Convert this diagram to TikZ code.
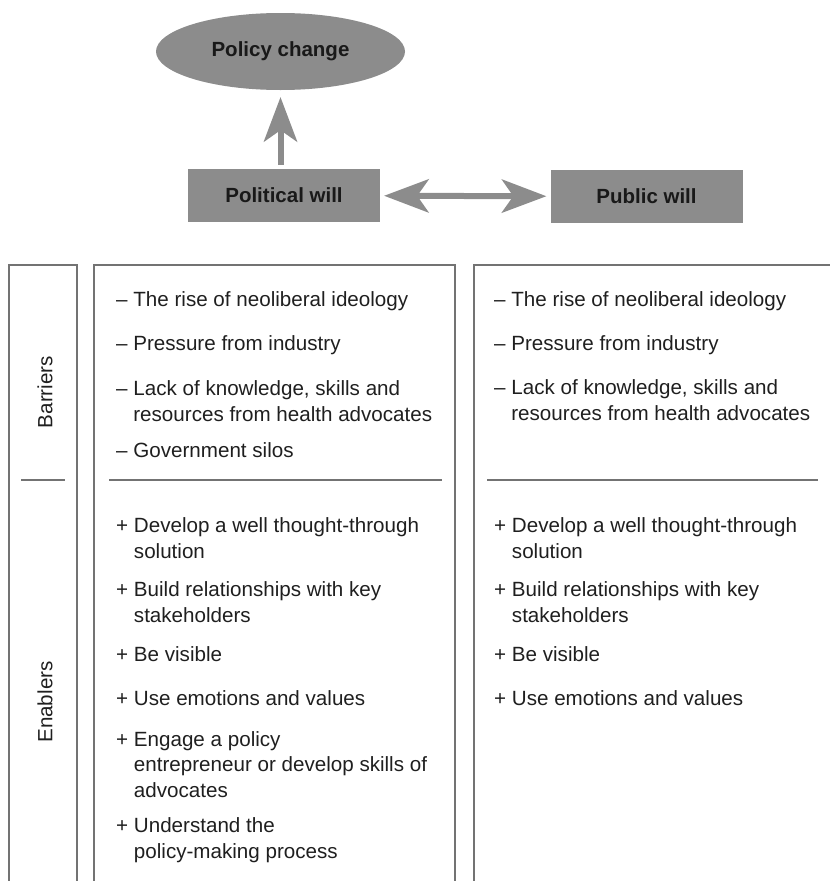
\documentclass[tikz,border=0pt]{standalone}
\usepackage{fontspec}
\setmainfont{Liberation Sans}
\usetikzlibrary{arrows.meta,shapes.geometric}

\begin{document}
\begin{tikzpicture}[x=1pt,y=-1pt,
  box/.style={fill=black!45,inner sep=0pt,text=black!90,
    font=\fontsize{20.5}{24}\selectfont\bfseries},
  goal/.style={box,ellipse,minimum width=249pt,minimum height=77pt},
  will/.style={box,minimum width=192pt,minimum height=53pt},
  item/.style={anchor=base west,align=left,inner sep=0pt,text=black!88,
    font=\fontsize{20.6}{25.5}\selectfont},
  side/.style={rotate=90,inner sep=0pt,text=black!88,
    font=\fontsize{20.6}{25.5}\selectfont},
  colline/.style={draw=black!55,line width=1.2pt},
  flow/.style={draw=black!45,line width=6pt,
    -{Stealth[length=45pt,width=34pt,inset=12pt,line width=0pt]}},
  twoway/.style={flow,{Stealth[length=45pt,width=34pt,inset=12pt,line width=0pt]}-{Stealth[length=45pt,width=34pt,inset=12pt,line width=0pt]}}]
\useasboundingbox (0,0) rectangle (830,881);

% top: the two wills and the outcome
\node[goal] (policy) at (280.5,51.5) {Policy change};
\node[will] (polwill) at (284,195.5) {Political will};
\node[will] (pubwill) at (646.5,196.5) {Public will};
\draw[flow,shorten <=4pt,shorten >=7pt] (polwill.north -| policy.south) -- (policy.south);
\draw[twoway,shorten <=4pt,shorten >=4pt] (polwill) -- (pubwill);

% table frames, open at the bottom
\draw[colline] (9,881) |- (77,265) -- (77,881);
\draw[colline] (94,881) |- (455,265) -- (455,881);
\draw[colline] (474,881) |- (831,265);
\draw[colline] (21,480) -- (65,480);
\draw[colline] (109,480) -- (442,480);
\draw[colline] (487,480) -- (818,480);

\node[side] (barriers) at (45,392) {Barriers};
\node[side] (enablers) at (45,702) {Enablers};

% political will column (multi-line items sit on their last baseline)
\node[item] (pbar1) at (116,306) {– The rise of neoliberal ideology};
\node[item] (pbar2) at (116,350) {– Pressure from industry};
\node[item] (pbar3) at (116,421) {– Lack of knowledge, skills and\\\phantom{– }resources from health advocates};
\node[item] (pbar4) at (116,457) {– Government silos};
\node[item] (pen1) at (116,558) {+ Develop a well thought-through\\\phantom{+ }solution};
\node[item] (pen2) at (116,622) {+ Build relationships with key\\\phantom{+ }stakeholders};
\node[item] (pen3) at (116,661) {+ Be visible};
\node[item] (pen4) at (116,705) {+ Use emotions and values};
\node[item] (pen5) at (116,797) {+ Engage a policy\\\phantom{+ }entrepreneur or develop skills of\\\phantom{+ }advocates};
\node[item] (pen6) at (116,858) {+ Understand the\\\phantom{+ }policy-making process};

% public will column
\node[item] (ubar1) at (494,306) {– The rise of neoliberal ideology};
\node[item] (ubar2) at (494,350) {– Pressure from industry};
\node[item] (ubar3) at (494,420) {– Lack of knowledge, skills and\\\phantom{– }resources from health advocates};
\node[item] (uen1) at (494,558) {+ Develop a well thought-through\\\phantom{+ }solution};
\node[item] (uen2) at (494,622) {+ Build relationships with key\\\phantom{+ }stakeholders};
\node[item] (uen3) at (494,661) {+ Be visible};
\node[item] (uen4) at (494,705) {+ Use emotions and values};
\end{tikzpicture}
\end{document}
